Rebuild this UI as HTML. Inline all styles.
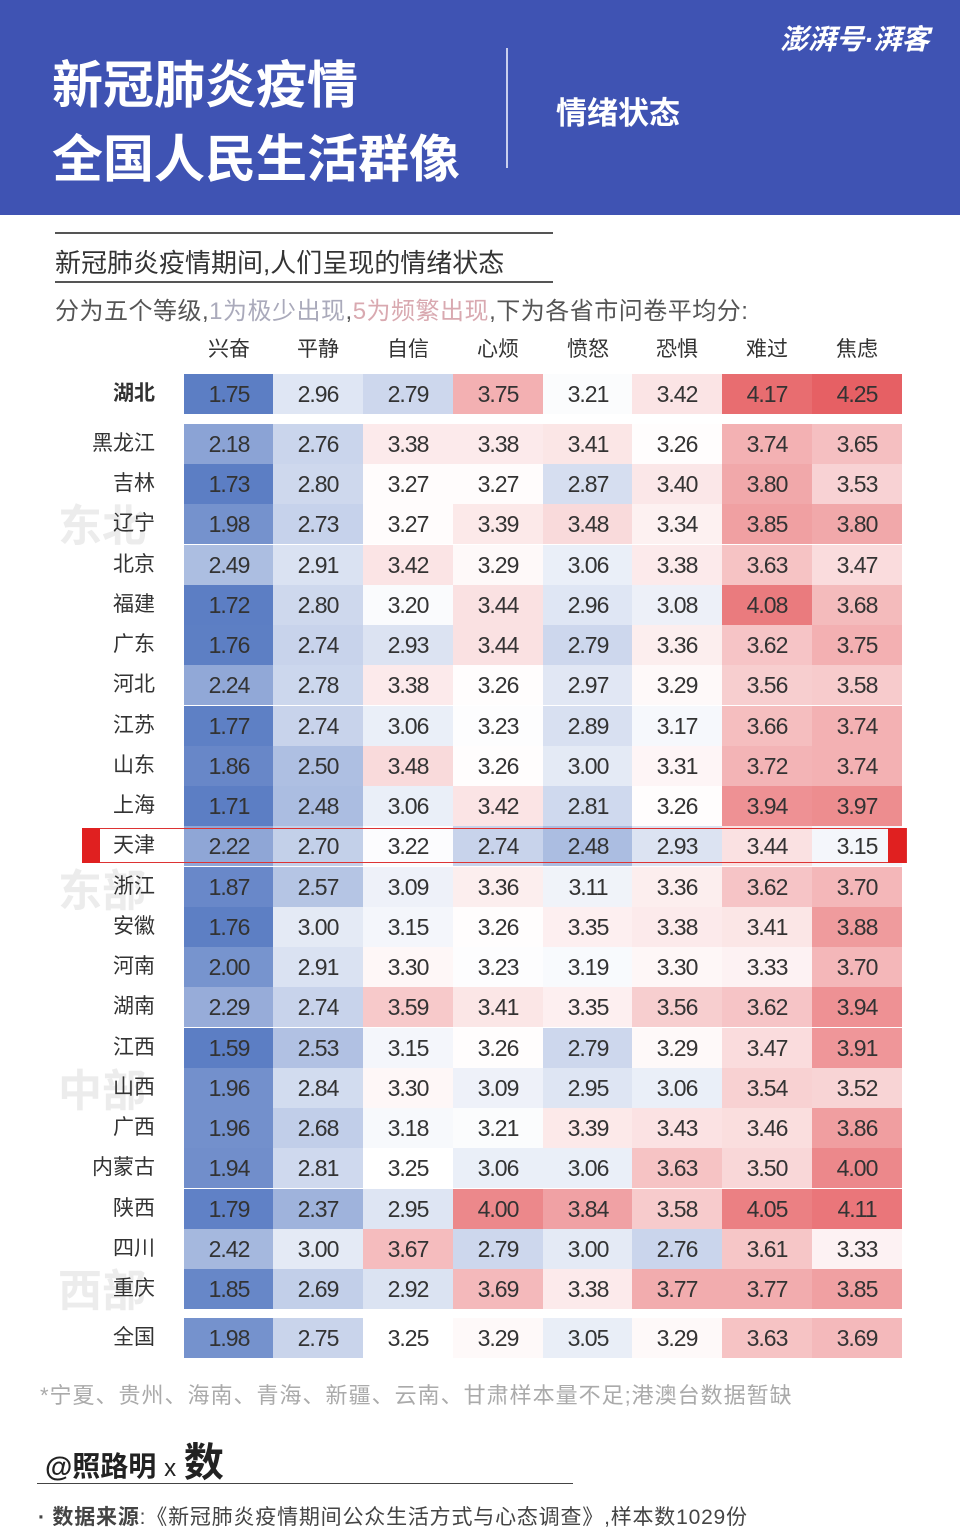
<!DOCTYPE html><html><head><meta charset="utf-8"><style>
body{margin:0;width:960px;height:1533px;background:#fff;position:relative;overflow:hidden;font-family:"Liberation Sans","Noto Sans CJK SC",sans-serif;}
.a{position:absolute;white-space:nowrap}
.hdr{position:absolute;left:0;top:0;width:960px;height:215px;background:#3f53b3}
.c{position:absolute;height:40px;line-height:40px;text-align:center;font-size:23px;color:#333;width:90px;letter-spacing:-1px}
.l{position:absolute;width:100px;text-align:right;font-size:21px;color:#333;height:40px;line-height:40px}
.reg{position:absolute;font-size:44px;font-weight:bold;color:#ececec;left:58px}
</style></head><body>
<div class="hdr"></div>
<div class="a" style="left:52px;top:44px;font-size:51px;color:#fff;font-weight:bold">新冠肺炎疫情</div>
<div class="a" style="left:52px;top:118px;font-size:51px;color:#fff;font-weight:bold">全国人民生活群像</div>
<div class="a" style="left:506px;top:48px;width:2px;height:120px;background:#c9cfee"></div>
<div class="a" style="left:556px;top:88px;font-size:31px;color:#fff;font-weight:bold">情绪状态</div>
<div class="a" style="left:780px;top:18px;font-size:28px;color:#fff;font-weight:bold;font-style:italic">澎湃号·湃客</div>
<div class="a" style="left:55px;top:232px;width:498px;height:2px;background:#555"></div>
<div class="a" style="left:55px;top:243px;font-size:26px;color:#333">新冠肺炎疫情期间,人们呈现的情绪状态</div>
<div class="a" style="left:55px;top:281px;width:498px;height:2px;background:#555"></div>
<div class="a" style="left:55px;top:291px;font-size:24px;color:#555;letter-spacing:0.5px">分为五个等级,<span style="color:#aab">1为极少出现</span>,<span style="color:#d9a9b0">5为频繁出现</span>,下为各省市问卷平均分:</div>
<div class="reg" style="top:490px">东北</div>
<div class="reg" style="top:855px">东部</div>
<div class="reg" style="top:1055px">中部</div>
<div class="reg" style="top:1255px">西部</div>
<div id="t"></div>
<div class="a" style="left:82px;top:828px;width:823px;height:33px;border:1px solid #d33;z-index:5"></div>
<div class="a" style="left:82px;top:828px;width:18px;height:35px;background:#e02020;z-index:5"></div>
<div class="a" style="left:888px;top:828px;width:18px;height:35px;background:#e02020;z-index:5"></div>
<div class="a" style="left:40px;top:1378px;font-size:22px;color:#aaa;letter-spacing:1px">*宁夏、贵州、海南、青海、新疆、云南、甘肃样本量不足;港澳台数据暂缺</div>
<div class="a" style="left:45px;top:1430px;font-size:28px;color:#222;font-weight:bold">@照路明 <span style="font-weight:normal;font-size:24px">x</span> <span style="font-size:40px">数</span></div>
<div class="a" style="left:37px;top:1483px;width:536px;height:1px;background:#444"></div>
<div class="a" style="left:38px;top:1501px;font-size:21px;color:#444;letter-spacing:0.8px"><b>· 数据来源</b>:《新冠肺炎疫情期间公众生活方式与心态调查》,样本数1029份</div>
<script>
var H=["兴奋","平静","自信","心烦","愤怒","恐惧","难过","焦虑"];
var D=[["湖北","1.75 2.96 2.79 3.75 3.21 3.42 4.17 4.25"],["黑龙江","2.18 2.76 3.38 3.38 3.41 3.26 3.74 3.65"],["吉林","1.73 2.80 3.27 3.27 2.87 3.40 3.80 3.53"],["辽宁","1.98 2.73 3.27 3.39 3.48 3.34 3.85 3.80"],["北京","2.49 2.91 3.42 3.29 3.06 3.38 3.63 3.47"],["福建","1.72 2.80 3.20 3.44 2.96 3.08 4.08 3.68"],["广东","1.76 2.74 2.93 3.44 2.79 3.36 3.62 3.75"],["河北","2.24 2.78 3.38 3.26 2.97 3.29 3.56 3.58"],["江苏","1.77 2.74 3.06 3.23 2.89 3.17 3.66 3.74"],["山东","1.86 2.50 3.48 3.26 3.00 3.31 3.72 3.74"],["上海","1.71 2.48 3.06 3.42 2.81 3.26 3.94 3.97"],["天津","2.22 2.70 3.22 2.74 2.48 2.93 3.44 3.15"],["浙江","1.87 2.57 3.09 3.36 3.11 3.36 3.62 3.70"],["安徽","1.76 3.00 3.15 3.26 3.35 3.38 3.41 3.88"],["河南","2.00 2.91 3.30 3.23 3.19 3.30 3.33 3.70"],["湖南","2.29 2.74 3.59 3.41 3.35 3.56 3.62 3.94"],["江西","1.59 2.53 3.15 3.26 2.79 3.29 3.47 3.91"],["山西","1.96 2.84 3.30 3.09 2.95 3.06 3.54 3.52"],["广西","1.96 2.68 3.18 3.21 3.39 3.43 3.46 3.86"],["内蒙古","1.94 2.81 3.25 3.06 3.06 3.63 3.50 4.00"],["陕西","1.79 2.37 2.95 4.00 3.84 3.58 4.05 4.11"],["四川","2.42 3.00 3.67 2.79 3.00 2.76 3.61 3.33"],["重庆","1.85 2.69 2.92 3.69 3.38 3.77 3.77 3.85"],["全国","1.98 2.75 3.25 3.29 3.05 3.29 3.63 3.69"]];
function col(v){var w=[255,255,255];var c,t;if(v<3.25){c=[92,126,196];t=Math.min(1,(3.25-v)/1.5);}else{c=[230,96,100];t=Math.min(1,(v-3.25)/1.0);}
return "rgb("+w.map(function(x,i){return Math.round(x+(c[i]-x)*t)}).join(",")+")";}
var X=[184,273,363,453,543,632,722,812],h="";
H.forEach(function(n,i){h+='<div class="c" style="left:'+X[i]+'px;top:330px;font-size:21px;letter-spacing:0">'+n+'</div>';});
D.forEach(function(r,j){var y=j==0?374:(j==23?1318:424+(j-1)*40.24);
h+='<div class="l" style="left:55px;top:'+y+'px;'+(j==0?'font-weight:bold':'')+'">'+r[0]+'</div>';
r[1].split(" ").forEach(function(v,i){h+='<div class="c" style="left:'+X[i]+'px;top:'+y+'px;background:'+col(+v)+'">'+v+'</div>';});});
document.getElementById("t").innerHTML=h;
</script>
</body></html>
